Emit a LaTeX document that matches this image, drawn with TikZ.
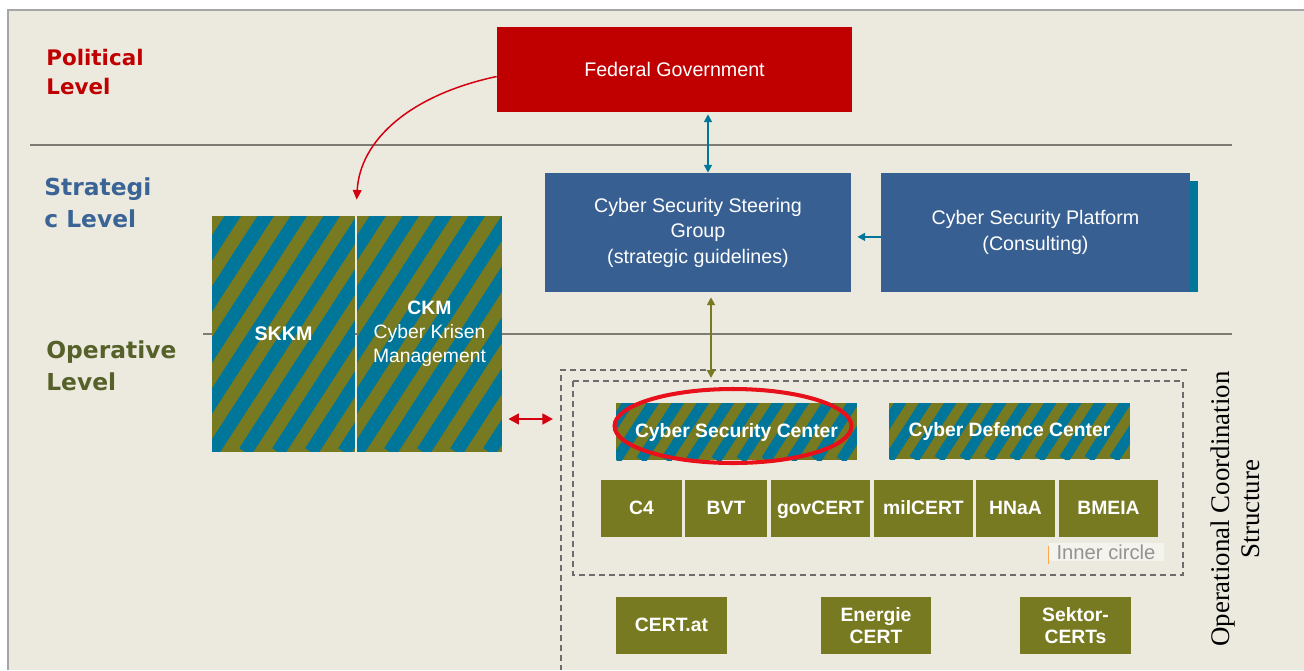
\documentclass[tikz,border=0pt]{standalone}
\usepackage{fontspec}
\setmainfont{Liberation Sans}
\newfontfamily\lvlfont{DejaVu Sans}
\newfontfamily\occfont{Liberation Serif}
\usetikzlibrary{arrows.meta,calc,shapes.geometric}

\definecolor{panel}{HTML}{ECEADF}
\definecolor{polred}{HTML}{C00000}
\definecolor{stratblue}{HTML}{375F91}
\definecolor{cyteal}{HTML}{00779A}
\definecolor{olivebox}{HTML}{777A21}
\definecolor{oplabel}{HTML}{566129}
\definecolor{lvlblue}{HTML}{3A6496}
\definecolor{ruleline}{HTML}{7C7C74}
\definecolor{ringred}{HTML}{E8101A}
\definecolor{linkred}{HTML}{D40010}

\tikzset{
  box/.style={rectangle, inner sep=0pt, text=white, align=center,
    font=\fontsize{11.2}{14.5}\selectfont},
  govbox/.style={box, fill=polred},
  stratbox/.style={box, fill=stratblue},
  opbox/.style={box, fill=olivebox, minimum height=1.14cm,
    font=\fontsize{11}{12.5}\selectfont\bfseries},
  oneline/.style={text height=1.6ex, text depth=0.4ex},
  stripes/.style 2 args={box, path picture={
      \fill[olivebox] (path picture bounding box.south west) rectangle (path picture bounding box.north east);
      \foreach \k in {-12,...,14}
        \draw[cyteal, line width=#2] ($(path picture bounding box.south west)+(\k*#1,0)$) -- ++(220,-340);
  }},
  lvl/.style={anchor=west, align=left, inner sep=0pt},
  link/.style={line width=1.1pt, {Triangle[length=4.5pt,width=4.5pt]}-{Triangle[length=4.5pt,width=4.5pt]}},
  dashbox/.style={draw=gray!85!black, line width=0.7pt, dash pattern=on 3.4pt off 2.3pt},
}

\begin{document}
\begin{tikzpicture}[x=0.02cm, y=-0.02cm]

\useasboundingbox (0,0) rectangle (1304,670);
\fill[white] (0,0) rectangle (1304,670);
\fill[panel] (8,10) rectangle (1304,670);
\draw[gray!70, line width=1.2pt] (8,670) -- (8,10) -- (1304,10);

% level lines
\draw[ruleline, line width=1.1pt] (30,145) -- (1232,145);
\draw[ruleline, line width=1.1pt] (203,334) -- (1232,334);

\node[lvl, text=polred, font=\lvlfont\bfseries\fontsize{12.2}{16.4}\selectfont] (pol) at (46,72) {Political\\Level};
\node[lvl, text=lvlblue, font=\lvlfont\bfseries\fontsize{13.3}{18.1}\selectfont] (strat) at (44,203) {Strategi\\c Level};
\node[lvl, text=oplabel, font=\lvlfont\bfseries\fontsize{13.3}{18.1}\selectfont] (oper) at (46,366) {Operative\\Level};

% political / strategic boxes
\node[govbox, minimum width=7.1cm, minimum height=1.7cm] (fg) at (674.5,69.5) {Federal Government};
\node[stratbox, minimum width=6.12cm, minimum height=2.38cm] (sg) at (698,232.5)
  {Cyber Security Steering\\Group\\(strategic guidelines)};
\fill[cyteal] (1190,181) rectangle (1198,292);
\node[stratbox, minimum width=6.18cm, minimum height=2.38cm] (pf) at (1035.5,232.5)
  {Cyber Security Platform\\(Consulting)};

% crisis management
\node[stripes={33}{0.277cm}, minimum width=2.86cm, minimum height=4.72cm] (skkm) at (283.5,334) {\textbf{SKKM}};
\node[stripes={33}{0.277cm}, minimum width=2.9cm, minimum height=4.72cm,
  font=\fontsize{11}{13.6}\selectfont] (ckm) at (429.5,334) {\textbf{CKM}\\Cyber Krisen\\Management};

% operational coordination structure
\draw[dashbox] (1187,370) -- (561,370) -- (561,670);
\draw[dashbox] (573,381) rectangle (1183,575);
\coordinate (occ n) at (711,378);
\coordinate (occ w) at (553,419);

\node[stripes={25}{0.21cm}, oneline, minimum width=4.82cm, minimum height=1.14cm,
  font=\fontsize{11}{13}\selectfont\bfseries] (csc) at (736.5,431.5) {Cyber Security Center};
\node[stripes={25}{0.21cm}, oneline, minimum width=4.82cm, minimum height=1.12cm,
  font=\fontsize{11}{13}\selectfont\bfseries] (cdc) at (1009.5,431) {Cyber Defence Center};

\node[opbox, oneline, minimum width=1.62cm] (c4) at (641.5,508.5) {C4};
\node[opbox, oneline, minimum width=1.64cm] (bvt) at (726,508.5) {BVT};
\node[opbox, oneline, minimum width=1.98cm] (gov) at (820.5,508.5) {govCERT};
\node[opbox, oneline, minimum width=1.98cm] (mil) at (923.5,508.5) {milCERT};
\node[opbox, oneline, minimum width=1.58cm] (hnaa) at (1015.5,508.5) {HNaA};
\node[opbox, oneline, minimum width=1.98cm] (bmeia) at (1108.5,508.5) {BMEIA};

\node[fill=panel!55!white, text=gray!85, inner sep=1pt, minimum width=2.3cm,
  font=\fontsize{11.5}{12}\selectfont] (inner) at (1106,552) {Inner circle};
\draw[orange!70, line width=0.5pt] (1048,546) -- (1048,564);

\node[opbox, oneline, minimum width=2.22cm] (certat) at (671.5,625.5) {CERT.at};
\node[opbox, minimum width=2.2cm] (energie) at (876,625.5) {Energie\\CERT};
\node[opbox, minimum width=2.22cm] (sektor) at (1075.5,625.5) {Sektor-\\CERTs};

\node[draw=ringred, line width=2.3pt, ellipse, inner sep=0pt,
  minimum width=4.74cm, minimum height=1.48cm] (ring) at (733,426) {};

\node[rotate=90, align=center, inner sep=0pt,
  font=\occfont\fontsize{15.3}{17}\selectfont] (occ) at (1235,509) {Operational Coordination\\Structure};

% connectors
\coordinate (tv) at (708,0);
\draw[link, cyteal, shorten <=1.1pt] (fg.south -| tv) -- (sg.north -| tv);
\draw[line width=1.1pt, cyteal, -{Triangle[length=4.5pt,width=4.5pt]}, shorten >=3.4pt]
  ([yshift=-2.5pt]pf.west) -- ([yshift=-2.5pt]sg.east);
\draw[link, olivebox, shorten <=2.8pt] (sg.south -| occ n) -- (occ n);
\draw[line width=1.5pt, linkred, {Triangle[length=6pt,width=6pt]}-{Triangle[length=6pt,width=6pt]},
  shorten <=3.4pt] (ckm.east |- occ w) -- (occ w);
\draw[linkred, line width=0.85pt, -{Triangle[length=5.5pt,width=5pt]}]
  ($(fg.west)+(0,7)$) .. controls (410,95) and (360,140) .. ($(ckm.north west)+(0,-16)$);

\end{tikzpicture}
\end{document}
